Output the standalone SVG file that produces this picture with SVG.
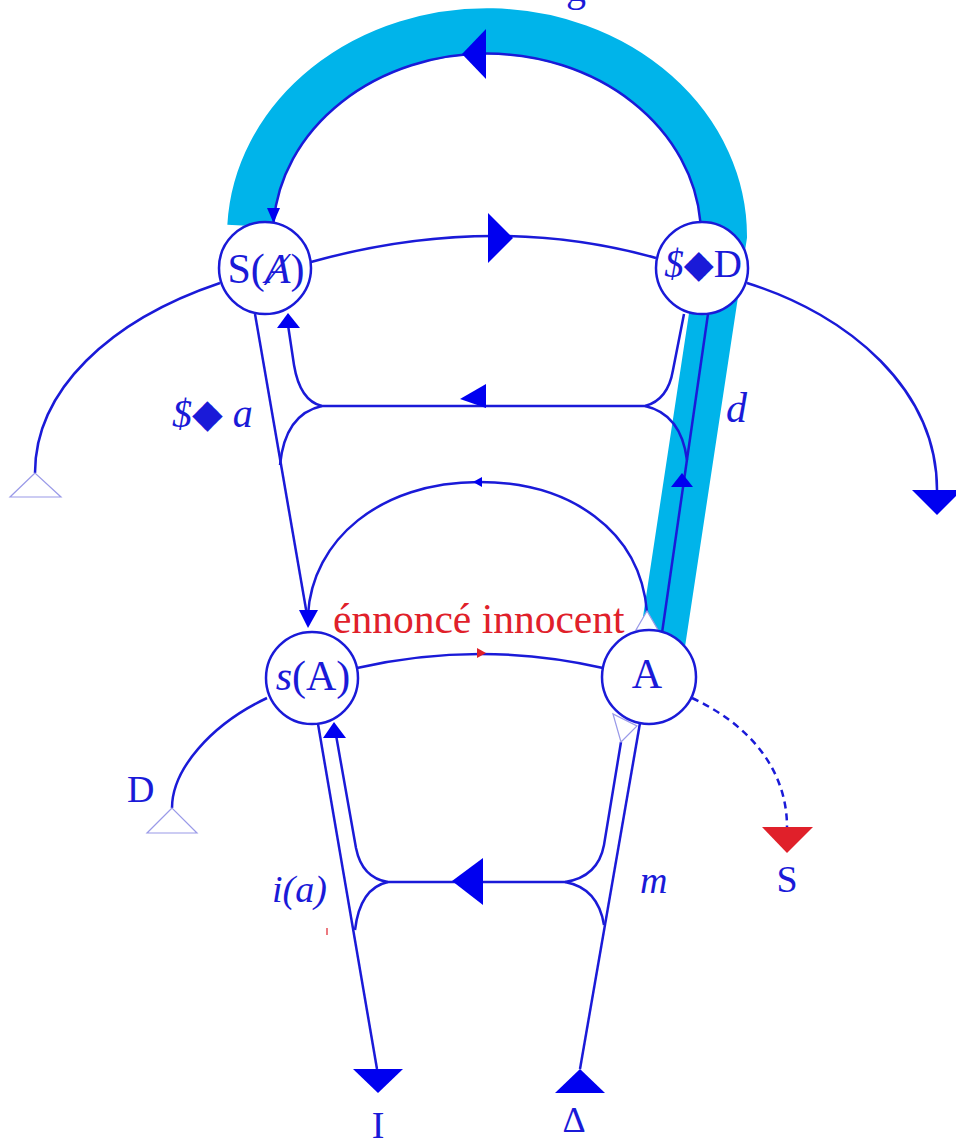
<svg xmlns="http://www.w3.org/2000/svg" width="956" height="1144" viewBox="0 0 956 1144">
<style>
.ln{fill:none;stroke:#1a1ad8;stroke-width:2.5}
.dash{fill:none;stroke:#1a1ad8;stroke-width:2.5;stroke-dasharray:7 5}
.ah{fill:#0000f0;stroke:none}
.pale{fill:#fff;stroke:#9a9ae8;stroke-width:1.2}
.node{fill:#fff;stroke:#1a1ad8;stroke-width:2.5}
.t{font-family:"Liberation Serif","DejaVu Serif",serif;fill:#1a1ad8}
.it{font-style:italic}
.red{fill:#e0202a}
</style>
<rect width="956" height="1144" fill="#fff"/>
<text class="t" x="566" y="1" font-size="40">g</text>
<g id="connectors">
  <path d="M 662 645 L 724 236 A 237 205 0 0 0 250.3 226" fill="none" stroke="#00b4ea" stroke-width="46"/>
  <path class="ln" d="M 700.4 222 A 214 182 0 0 0 273.6 222"/>
  <polygon class="ah" points="273.5,223 267,208 280,208"/>
  <polygon class="ah" points="462,54 486,29 486,79"/>
  <path class="ln" d="M 311 262 Q 490 212 656 258"/>
  <polygon class="ah" points="513,238 488,213 488,263"/>
  <path class="ln" d="M 220 283 C 110 320 35 390 35 473"/>
  <polygon class="pale" points="35,473 10,497 61,497"/>
  <path class="ln" d="M 747 283 C 850 315 937 390 937 490"/>
  <polygon class="ah" points="912,490 962,490 937,515"/>
  <path class="ln" d="M 255 314 L 307 615"/>
  <path class="ln" d="M 288 325 L 294 365 Q 300 401 322 406 L 645 406 Q 668 400 673 370 L 684 314"/>
  <path class="ln" d="M 322 406 Q 285 414 280 465"/>
  <path class="ln" d="M 645 406 Q 681 414 687 460"/>
  <polygon class="ah" points="288,313 277,328 300,328"/>
  <polygon class="ah" points="460,399 486,384 486,408"/>
  <path class="ln" d="M 708 314 L 662 633"/>
  <polygon class="ah" points="682,473 671,487 693,487"/>
  <path class="ln" d="M 647 612 C 640 530 570 482 479 482 C 380 482 312 540 308 615"/>
  <polygon class="ah" points="473,482 482,477 482,487"/>
  <polygon class="ah" points="308,628 299,610 318,610"/>
  <polygon class="pale" points="647,611 636,630 658,630"/>
  <path class="ln" d="M 357 668 Q 480 640 603 668"/>
  <polygon class="red" points="486,653 477,648 477,658"/>
  <path class="ln" d="M 267 698 C 210 725 172 770 172 808"/>
  <polygon class="pale" points="172,808 147,833 197,833"/>
  <path class="dash" d="M 692 698 C 750 725 787 770 787 827"/>
  <polygon class="red" points="762,827 813,827 787,853"/>
  <path class="ln" d="M 318 724 L 377 1069"/>
  <polygon class="ah" points="353,1069 403,1069 378,1093"/>
  <path class="ln" d="M 336 735 L 356 848 Q 362 878 388 882 L 565 882 Q 598 877 604 845 L 621 742"/>
  <path class="ln" d="M 388 882 Q 360 888 355 930"/>
  <polygon class="ah" points="334,722 323,738 346,738"/>
  <polygon class="ah" points="452,881 483,858 483,905"/>
  <path class="ln" d="M 640 723 L 580 1069"/>
  <path class="ln" d="M 565 882 Q 598 888 604 925"/>
  <polygon class="ah" points="580,1069 555,1093 605,1093"/>
  <polygon class="pale" points="613,714 621,742 637,726"/>
  <line x1="327" y1="928" x2="327" y2="935" stroke="#e0202a" stroke-width="1.2"/>
</g>
<g id="node-SA">
  <circle class="node" cx="265" cy="268" r="46"/>
  <text class="t" x="266" y="283" font-size="42" text-anchor="middle">S(<tspan class="it">Ⱥ</tspan>)</text>
</g>
<g id="node-SD">
  <circle class="node" cx="702" cy="268" r="46"/>
  <text class="t" x="703" y="277" font-size="39" text-anchor="middle"><tspan class="it">$</tspan>◆D</text>
</g>
<g id="node-sA">
  <circle class="node" cx="312" cy="678" r="46"/>
  <text class="t" x="313" y="690" font-size="42" text-anchor="middle"><tspan class="it">s</tspan>(A)</text>
</g>
<g id="node-A">
  <circle class="node" cx="649" cy="677" r="47"/>
  <text class="t" x="647" y="688" font-size="42" text-anchor="middle">A</text>
</g>
<g id="labels">
  <text class="t red" x="333" y="633" font-size="41.5">énnoncé innocent</text>
  <text class="t" x="172" y="427" font-size="40"><tspan class="it">$</tspan>◆ <tspan class="it">a</tspan></text>
  <text class="t it" x="726" y="422" font-size="42">d</text>
  <text class="t" x="127" y="802" font-size="38">D</text>
  <text class="t it" x="272" y="902" font-size="38">i(a)</text>
  <text class="t it" x="640" y="893" font-size="38">m</text>
  <text class="t" x="787" y="892" font-size="38" text-anchor="middle">S</text>
  <text class="t" x="378" y="1138" font-size="38" text-anchor="middle">I</text>
  <text class="t" x="574" y="1132" font-size="36" text-anchor="middle">Δ</text>
</g>
</svg>
